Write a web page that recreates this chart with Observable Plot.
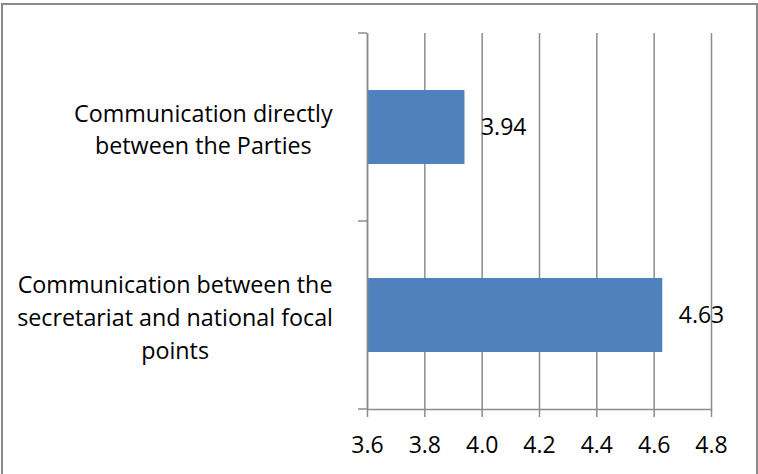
<!DOCTYPE html>
<html>
<head>
<meta charset="utf-8">
<script src="https://cdn.jsdelivr.net/npm/d3@7"></script>
<script src="https://cdn.jsdelivr.net/npm/@observablehq/plot@0.6"></script>
<style>
  html, body { margin: 0; padding: 0; background: #fff; overflow: hidden; }
  #wrap { position: relative; width: 758px; height: 474px; }
  #border { position: absolute; left: 1px; top: 3px; width: 757px; height: 490px; border: 2px solid #8a8a8a; box-sizing: border-box; pointer-events: none; }
  #chart { position: absolute; left: 0; top: 0; }
</style>
</head>
<body>
<div id="wrap"><div id="chart"></div><div id="border"></div></div>
<script>
const categories = [
  "Communication directly between the Parties",
  "Communication between the secretariat and national focal points"
];
const categoryLabels = [
  "Communication directly\nbetween the Parties",
  "Communication between the\nsecretariat and national focal\npoints"
];
const values = [3.94, 4.63];
const xDomain = [3.6, 4.8];
const xTicks = [3.6, 3.8, 4.0, 4.2, 4.4, 4.6, 4.8];

const data = categories.map((c, i) => ({cat: c, label: categoryLabels[i], value: values[i]}));
const font = "'Open Sans', 'Noto Sans', sans-serif";

const chart = Plot.plot({
  width: 758,
  height: 474,
  marginLeft: 367,
  marginRight: 47,
  marginTop: 33,
  marginBottom: 65,
  style: {fontFamily: font, fontSize: "23px", color: "#000", background: "transparent"},
  x: {domain: xDomain, ticks: xTicks, tickFormat: ".1f"},
  y: {domain: categories, paddingInner: 0.606, paddingOuter: 0.303, axis: null},
  marks: [
    Plot.gridX(xTicks, {stroke: "#8c8c8c", strokeOpacity: 1, strokeWidth: 1.5}),
    Plot.barX(data, {x1: () => xDomain[0], x2: "value", y: "cat", fill: "#4F81BD"}),
    Plot.ruleX([xDomain[0]], {stroke: "#8c8c8c", strokeWidth: 1.5}),
    Plot.frame({anchor: "bottom", stroke: "#8c8c8c", strokeWidth: 1.5}),
    Plot.axisX({ticks: xTicks, tickFormat: ".1f", tickSize: 8, tickPadding: 19, stroke: "#8c8c8c", strokeWidth: 1.5, fill: "#000", fontSize: 23, label: null}),
    Plot.text(data, {x: "value", y: "cat", text: d => d.value.toFixed(2), textAnchor: "start", dx: 16, fontSize: 23, fill: "#000"}),
    Plot.text(data, {y: "cat", text: "label", frameAnchor: "left", textAnchor: "middle", dx: -190, lineHeight: 1.4, fontSize: 23.3, fill: "#000", className: "ylab"})
  ]
});

document.getElementById("chart").appendChild(chart);

// category boundary ticks on the y axis, derived from the band scale
const ys = chart.scale("y");
const xs = chart.scale("x");
const x0 = xs.apply(xDomain[0]);
const bounds = new Set();
categories.forEach(c => {
  const center = ys.apply(c) + ys.bandwidth / 2;
  bounds.add(center - ys.step / 2);
  bounds.add(center + ys.step / 2);
});
const svg = d3.select(chart);
svg.append("g").selectAll("line").data([...bounds]).join("line")
  .attr("x1", x0 - 9).attr("x2", x0)
  .attr("y1", d => d).attr("y2", d => d)
  .attr("stroke", "#8c8c8c").attr("stroke-width", 1.5);

// right-align each (centered) label block to a common right edge
const svgLeft = chart.getBoundingClientRect().left;
const rightEdge = x0 - 34;
svg.selectAll(".ylab text").each(function() {
  const r = this.getBoundingClientRect();
  const shift = rightEdge - (r.right - svgLeft);
  this.setAttribute("transform", `translate(${shift},0) ` + (this.getAttribute("transform") || ""));
});
</script>
</body>
</html>
